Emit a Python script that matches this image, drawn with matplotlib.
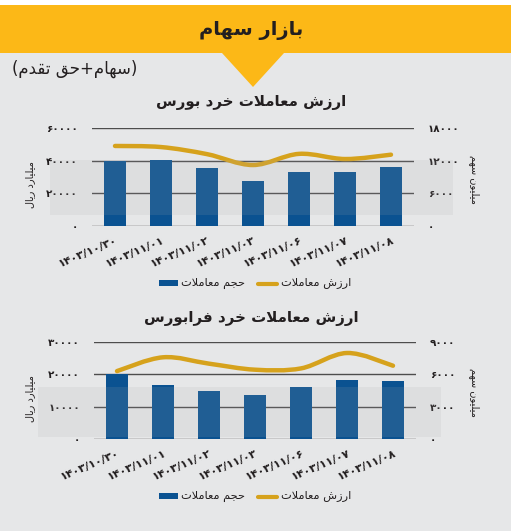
import numpy as np
import matplotlib
matplotlib.use("Agg")
import matplotlib.pyplot as plt
from matplotlib.patches import Rectangle, Polygon, PathPatch
from matplotlib.path import Path

# ---- data -------------------------------------------------------------
dates = ["1403/10/30", "1403/11/01", "1403/11/02", "1403/11/03",
         "1403/11/06", "1403/11/07", "1403/11/08"]

bourse_bars = [39800, 40300, 35300, 27700, 32900, 33100, 36000]
bourse_line = [14700, 14500, 13200, 11200, 13250, 12300, 13100]
bourse_left_ticks = [0, 20000, 40000, 60000]
bourse_right_ticks = [0, 6000, 12000, 18000]

fara_bars = [20000, 16650, 14800, 13550, 16000, 18100, 18000]
fara_line = [6300, 7580, 6990, 6430, 6550, 7980, 6800]
fara_left_ticks = [0, 10000, 20000, 30000]
fara_right_ticks = [0, 3000, 6000, 9000]

BLUE = "#0a5291"
GOLD = "#d6a21c"
BG = "#e6e7e8"
YELLOW = "#fcb817"
DARK = "#231f20"

# ---- minimal persian shaping (no reshaper lib available) --------------
FORMS = {  # isolated, final, initial, medial
    "ب": (0xFE8F, 0xFE90, 0xFE91, 0xFE92), "ت": (0xFE95, 0xFE96, 0xFE97, 0xFE98),
    "ج": (0xFE9D, 0xFE9E, 0xFE9F, 0xFEA0), "ح": (0xFEA1, 0xFEA2, 0xFEA3, 0xFEA4),
    "خ": (0xFEA5, 0xFEA6, 0xFEA7, 0xFEA8), "س": (0xFEB1, 0xFEB2, 0xFEB3, 0xFEB4),
    "ش": (0xFEB5, 0xFEB6, 0xFEB7, 0xFEB8), "ع": (0xFEC9, 0xFECA, 0xFECB, 0xFECC),
    "ف": (0xFED1, 0xFED2, 0xFED3, 0xFED4), "ق": (0xFED5, 0xFED6, 0xFED7, 0xFED8),
    "ل": (0xFEDD, 0xFEDE, 0xFEDF, 0xFEE0), "م": (0xFEE1, 0xFEE2, 0xFEE3, 0xFEE4),
    "ن": (0xFEE5, 0xFEE6, 0xFEE7, 0xFEE8), "ه": (0xFEE9, 0xFEEA, 0xFEEB, 0xFEEC),
    "ی": (0xFBFC, 0xFBFD, 0xFEF3, 0xFEF4),
    "ا": (0xFE8D, 0xFE8E, None, None), "د": (0xFEA9, 0xFEAA, None, None),
    "ر": (0xFEAD, 0xFEAE, None, None), "ز": (0xFEAF, 0xFEB0, None, None),
    "و": (0xFEED, 0xFEEE, None, None),
}


def dual(c):
    return c in FORMS and FORMS[c][2] is not None


def fa(text):
    out = []
    i = 0
    n = len(text)
    while i < n:
        c = text[i]
        if c not in FORMS:
            out.append({"(": ")", ")": "("}.get(c, c))
            i += 1
            continue
        prev_join = i > 0 and dual(text[i - 1])
        if c == "ل" and i + 1 < n and text[i + 1] == "ا":
            out.append(chr(0xFEFC if prev_join else 0xFEFB))
            i += 2
            continue
        next_join = dual(c) and i + 1 < n and text[i + 1] in FORMS
        iso, fin, ini, med = FORMS[c]
        if prev_join and next_join:
            g = med
        elif prev_join:
            g = fin
        elif next_join:
            g = ini
        else:
            g = iso
        out.append(chr(g))
        i += 1
    return "".join(reversed(out))


def fa_num(s):
    return str(s).translate(str.maketrans("0123456789", "۰۱۲۳۴۵۶۷۸۹"))


# ---- figure -----------------------------------------------------------
W = H = 531
fig = plt.figure(figsize=(5.31, 5.31), dpi=100)
fig.patch.set_facecolor("white")


def fx(px):
    return px / W


def fy(py):
    return 1 - py / H


fig.patches.append(Rectangle((0, 0), fx(511), fy(5), transform=fig.transFigure,
                             facecolor=BG, edgecolor="none", zorder=-2))
fig.patches.append(Rectangle((0, fy(53)), fx(511), fy(5) - fy(53), transform=fig.transFigure,
                             facecolor=YELLOW, edgecolor="none", zorder=1))
fig.patches.append(Polygon([(fx(222), fy(53)), (fx(284), fy(53)), (fx(253), fy(87))],
                           transform=fig.transFigure, facecolor=YELLOW, edgecolor="none", zorder=1))
fig.text(fx(251), fy(30), fa("بازار سهام"), ha="center", va="center",
         fontsize=14, fontweight="bold", color=DARK)
fig.text(fx(12), fy(69), fa("(سهام+حق تقدم)"), ha="left", va="center",
         fontsize=12, color=DARK)


def smooth_path(xs, ys):
    pts = np.column_stack([xs, ys]).astype(float)
    verts = [pts[0]]
    codes = [Path.MOVETO]
    for i in range(len(pts) - 1):
        p0 = pts[max(i - 1, 0)]
        p1 = pts[i]
        p2 = pts[i + 1]
        p3 = pts[min(i + 2, len(pts) - 1)]
        verts += [p1 + (p2 - p0) / 6, p2 - (p3 - p1) / 6, p2]
        codes += [Path.CURVE4] * 3
    return Path(verts, codes)


def panel(box, title, title_y, bars, line, lticks, rticks, wm, legend_y):
    x0, y0, x1, y1 = box
    ax = fig.add_axes([fx(x0), fy(y1), fx(x1 - x0), fy(y0) - fy(y1)])
    ax.set_facecolor("none")
    x = np.arange(len(dates))
    ax.bar(x, bars, width=0.49, color=BLUE, zorder=3)
    ax.set_xlim(-0.5, len(dates) - 0.5)
    ax.set_ylim(lticks[0], lticks[-1])
    ax.set_yticks(lticks)
    ax.set_yticklabels([fa_num(t) for t in lticks], fontsize=7.5, fontweight="bold", color=DARK)
    for t in lticks:
        ax.axhline(t, color="#4d4d4d", lw=1.0, zorder=1)
    ax.set_xticks(x)
    ax.set_xticklabels([fa_num(d) for d in dates], rotation=23, ha="right",
                       rotation_mode="anchor", fontsize=8, fontweight="bold", color=DARK)
    ax.tick_params(length=0, pad=10)
    ax.tick_params(axis="x", pad=7)
    for s in ax.spines.values():
        s.set_visible(False)

    ax2 = ax.twinx()
    ax2.set_ylim(rticks[0], rticks[-1])
    ax2.set_yticks(rticks)
    ax2.set_yticklabels([fa_num(t) for t in rticks], fontsize=7.5, fontweight="bold", color=DARK)
    ax2.tick_params(length=0, pad=10)
    for s in ax2.spines.values():
        s.set_visible(False)
    ax2.add_patch(PathPatch(smooth_path(x, line), fill=False, edgecolor=GOLD, lw=3.2,
                            capstyle="round", joinstyle="round", zorder=4))

    # watermark band
    wx0, wy0, wx1, wy1 = wm
    fig.patches.append(Rectangle((fx(wx0), fy(wy1)), fx(wx1 - wx0), fy(wy0) - fy(wy1),
                                 transform=fig.transFigure, facecolor="#a8a9ad",
                                 edgecolor="none", alpha=0.14, zorder=10))

    fig.text(fx(251), fy(title_y), fa(title), ha="center", va="center",
             fontsize=10.8, fontweight="bold", color=DARK)
    fig.text(fx(30), fy((y0 + y1) / 2 + 8), fa("میلیارد ریال"), rotation=90,
             ha="center", va="center", fontsize=7, color=DARK)
    fig.text(fx(474), fy((y0 + y1) / 2 + 2), fa("میلیون سهم"), rotation=270,
             ha="center", va="center", fontsize=7, color=DARK)

    # legend
    fig.patches.append(Rectangle((fx(159), fy(legend_y + 3)), fx(19), fy(legend_y - 3) - fy(legend_y + 3),
                                 transform=fig.transFigure, facecolor=BLUE, edgecolor="none"))
    fig.text(fx(181), fy(legend_y), fa("حجم معاملات"), ha="left", va="center",
             fontsize=8.2, color=DARK)
    fig.lines.append(plt.Line2D([fx(258), fx(277)], [fy(legend_y + 1), fy(legend_y + 1)],
                                transform=fig.transFigure, color=GOLD, lw=3, solid_capstyle="round"))
    fig.text(fx(281), fy(legend_y), fa("ارزش معاملات"), ha="left", va="center",
             fontsize=8.2, color=DARK)


panel((92, 128, 414, 226), "ارزش معاملات خرد بورس", 103, bourse_bars, bourse_line,
      bourse_left_ticks, bourse_right_ticks, (50, 160, 453, 215), 283)
panel((94, 342, 416, 439), "ارزش معاملات خرد فرابورس", 319, fara_bars, fara_line,
      fara_left_ticks, fara_right_ticks, (38, 387, 441, 437), 496)

fig.savefig("out.png", dpi=100, facecolor=fig.get_facecolor())
